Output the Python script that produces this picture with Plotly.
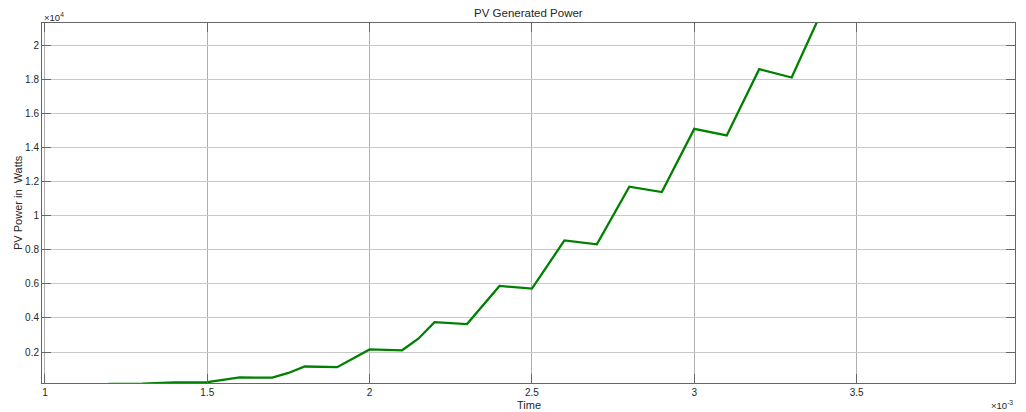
import plotly.graph_objects as go

# Data (time in seconds, power in watts)
time_s = [1.0e-3, 1.1e-3, 1.2e-3, 1.3e-3, 1.4e-3, 1.5e-3, 1.6e-3, 1.7e-3, 1.75e-3, 1.8e-3,
          1.9e-3, 2.0e-3, 2.1e-3, 2.15e-3, 2.2e-3, 2.3e-3, 2.4e-3, 2.5e-3, 2.6e-3, 2.7e-3,
          2.8e-3, 2.9e-3, 3.0e-3, 3.1e-3, 3.2e-3, 3.3e-3, 3.4e-3]
power_w = [0, 30, 120, 140, 210, 230, 510, 490, 770, 1150,
           1110, 2150, 2100, 2780, 3750, 3640, 5880, 5720, 8550, 8320,
           11710, 11390, 15100, 14720, 18610, 18120, 22300]

x_tick_vals = [1.0e-3, 1.5e-3, 2.0e-3, 2.5e-3, 3.0e-3, 3.5e-3]
x_tick_text = ["1", "1.5", "2", "2.5", "3", "3.5"]
y_tick_vals = [2000, 4000, 6000, 8000, 10000, 12000, 14000, 16000, 18000, 20000]
y_tick_text = ["0.2", "0.4", "0.6", "0.8", "1", "1.2", "1.4", "1.6", "1.8", "2"]

x_range = [0.9908e-3, 3.988e-3]
y_range = [180, 21320]

FONT = "Liberation Sans, Arial, Helvetica, sans-serif"
TXT = "#262626"

fig = go.Figure()
fig.add_trace(go.Scatter(x=time_s, y=power_w, mode="lines",
                         line=dict(color="#008000", width=2.3),
                         showlegend=False, hoverinfo="skip"))

W, H = 1026, 412
L, R, T, B = 42, 11, 23, 29

axis_common = dict(showline=True, linecolor="#666666", linewidth=1, mirror="ticks",
                   ticks="inside", ticklen=9, tickcolor="#666666", tickwidth=1,
                   zeroline=False, showgrid=True,
                   tickfont=dict(family=FONT, size=10, color=TXT))

fig.update_layout(
    width=W, height=H,
    margin=dict(l=L, r=R, t=T, b=B, pad=0),
    paper_bgcolor="white", plot_bgcolor="white",
    xaxis=dict(range=x_range, tickvals=x_tick_vals, ticktext=x_tick_text,
               gridcolor="#b0b0b0", gridwidth=1, **axis_common),
    yaxis=dict(range=y_range, tickvals=y_tick_vals, ticktext=y_tick_text,
               gridcolor="#c8c8c8", gridwidth=1, **axis_common),
    annotations=[
        dict(text="PV Generated Power", xref="paper", yref="paper",
             x=0.5, y=1 + (T - 13) / (H - T - B), xanchor="center", yanchor="middle",
             showarrow=False, font=dict(family=FONT, size=11.5, color=TXT)),
        dict(text="Time", xref="paper", yref="paper",
             x=0.5, y=-(405 - (H - B)) / (H - T - B), xanchor="center", yanchor="middle",
             showarrow=False, font=dict(family=FONT, size=11, color=TXT)),
        dict(text="PV Power in\u00a0 Watts", xref="paper", yref="paper",
             x=-(L - 18) / (W - L - R), y=0.5, xanchor="center", yanchor="middle",
             textangle=-90, showarrow=False, font=dict(family=FONT, size=11, color=TXT)),
        dict(text="\u00d710<sup>4</sup>", xref="paper", yref="paper",
             x=0, y=1 + (T - 17) / (H - T - B), xanchor="left", yanchor="middle",
             showarrow=False, font=dict(family=FONT, size=9.5, color=TXT)),
        dict(text="\u00d710<sup>-3</sup>", xref="paper", yref="paper",
             x=1, y=-(405 - (H - B)) / (H - T - B), xanchor="right", yanchor="middle",
             showarrow=False, font=dict(family=FONT, size=9.5, color=TXT)),
    ],
)

fig.write_html("out.html")
